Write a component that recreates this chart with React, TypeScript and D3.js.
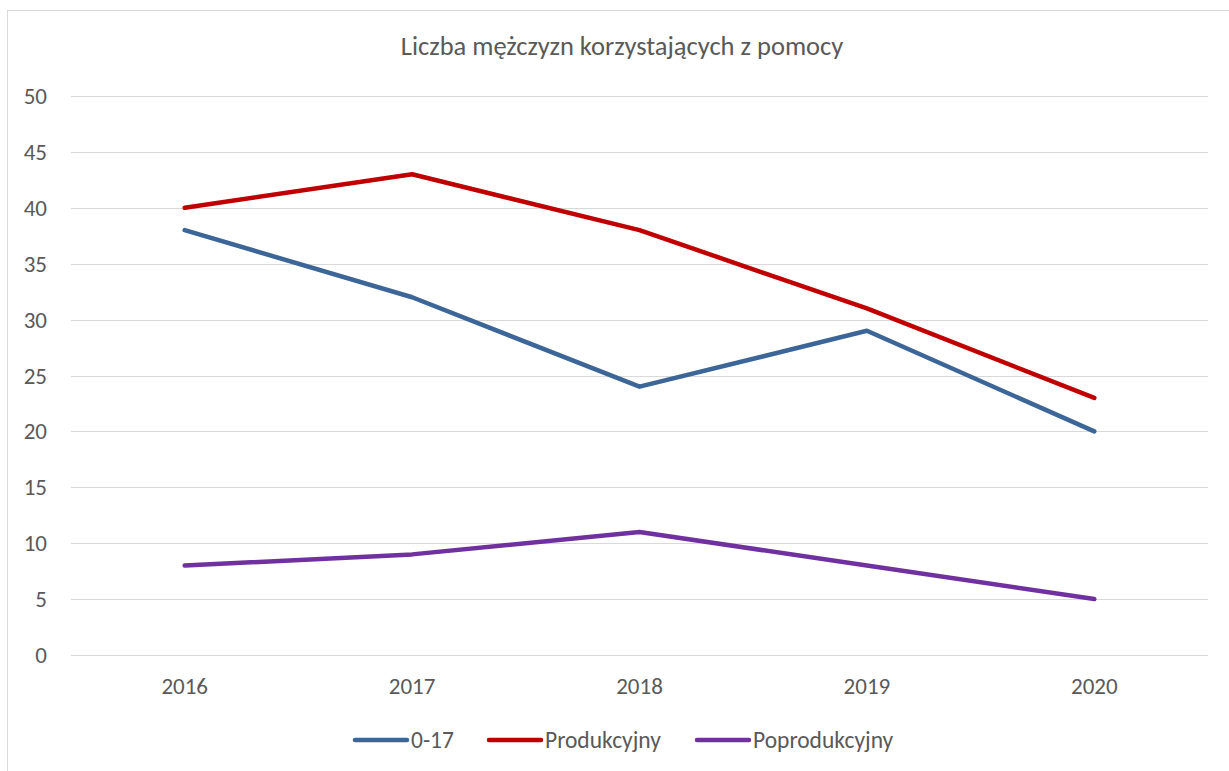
import React from 'react';
import * as d3 from 'd3';

const years = ['2016', '2017', '2018', '2019', '2020'];
const kids = [38, 32, 24, 29, 20];
const working = [40, 43, 38, 31, 23];
const retired = [8, 9, 11, 8, 5];
const yTicks = [0, 5, 10, 15, 20, 25, 30, 35, 40, 45, 50];

const series = [
  { name: '0-17', values: kids, color: '#3c6598' },
  { name: 'Produkcyjny', values: working, color: '#c00000' },
  { name: 'Poprodukcyjny', values: retired, color: '#7030a0' },
];

const W = 1229;
const H = 771;
const font = "Carlito, Calibri, 'Open Sans', sans-serif";

export default function App() {
  const x = d3.scaleBand<string>().domain(years).range([71, 1208]);
  const y = d3.scaleLinear().domain([0, 50]).range([655, 96]);
  const line = d3
    .line<number>()
    .x((_, i) => (x(years[i]) as number) + x.bandwidth() / 2)
    .y((d) => y(d));

  // legend line start positions
  const legendPos = [353, 487, 695];

  return (
    <div style={{ position: 'fixed', left: 0, top: 0 }}>
      <svg width={W} height={H} style={{ display: 'block', background: '#fff' }}>
        <rect x={7.5} y={10.5} width={1240} height={780} fill="#fff" stroke="#d9d9d9" />
        <text x={622} y={55} textAnchor="middle" fontFamily={font} fontSize={26.5} fill="#595959">
          Liczba mężczyzn korzystających z pomocy
        </text>
        {yTicks.map((t) => (
          <g key={t}>
            <line x1={71} x2={1208} y1={Math.round(y(t)) + 0.5} y2={Math.round(y(t)) + 0.5} stroke="#d9d9d9" />
            <text x={47} y={y(t) + 8} textAnchor="end" fontFamily={font} fontSize={23} fill="#595959">
              {t}
            </text>
          </g>
        ))}
        {years.map((yr) => (
          <text
            key={yr}
            x={(x(yr) as number) + x.bandwidth() / 2}
            y={693.5}
            textAnchor="middle"
            fontFamily={font}
            fontSize={23}
            fill="#595959"
          >
            {yr}
          </text>
        ))}
        {series.map((s) => (
          <path
            key={s.name}
            d={line(s.values) || ''}
            fill="none"
            stroke={s.color}
            strokeWidth={4.5}
            strokeLinejoin="round"
            strokeLinecap="round"
          />
        ))}
        {series.map((s, i) => (
          <g key={s.name} transform={`translate(${legendPos[i]},740)`}>
            <line x1={2} x2={54} y1={0} y2={0} stroke={s.color} strokeWidth={4.5} strokeLinecap="round" />
            <text x={58} y={8} fontFamily={font} fontSize={23.5} fill="#595959">
              {s.name}
            </text>
          </g>
        ))}
      </svg>
    </div>
  );
}
